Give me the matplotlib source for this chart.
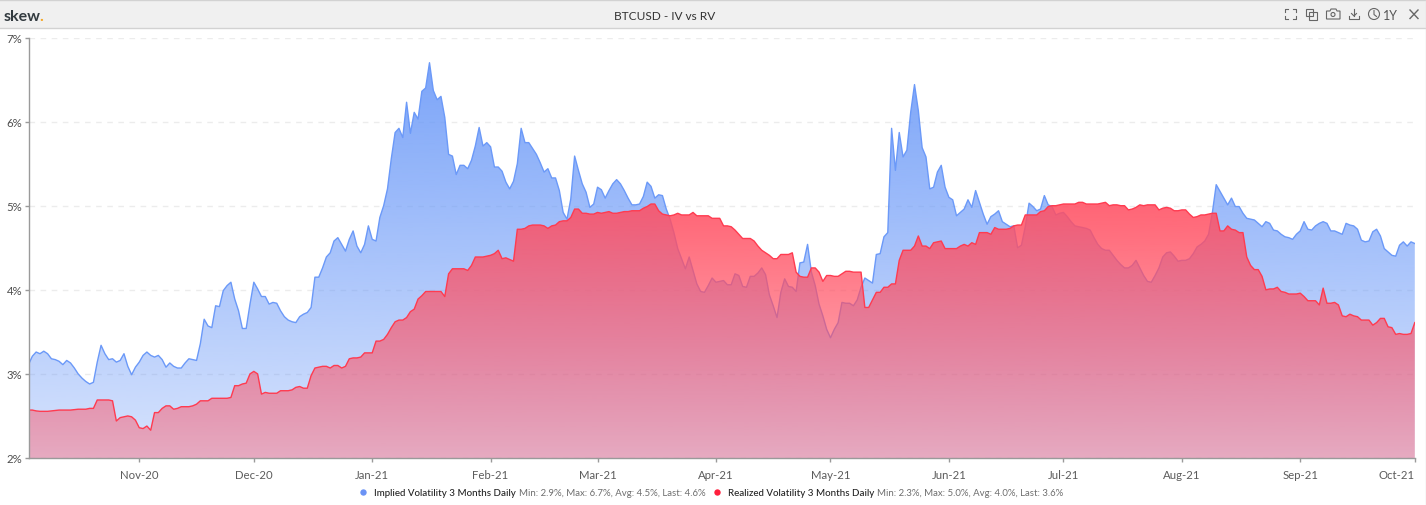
import numpy as np
import pandas as pd
import matplotlib
matplotlib.use("Agg")
import matplotlib.pyplot as plt
import matplotlib.dates as mdates
from matplotlib.colors import to_rgb
from matplotlib.patches import Rectangle, Circle, PathPatch, Polygon
from matplotlib.path import Path

plt.rcParams['font.family'] = ['Lato', 'DejaVu Sans']

START_DATE = "2020-10-03"

iv_values = [
    3.11,3.21,3.26,3.24,3.27,3.24,3.18,3.17,3.15,3.11,
    3.16,3.13,3.07,3.00,2.95,2.91,2.88,2.90,3.14,3.34,
    3.24,3.17,3.18,3.14,3.16,3.24,3.09,2.99,3.08,3.14,
    3.22,3.26,3.22,3.20,3.22,3.17,3.08,3.13,3.09,3.07,
    3.07,3.13,3.18,3.17,3.16,3.36,3.65,3.57,3.55,3.81,
    3.80,3.99,4.05,4.09,3.89,3.75,3.54,3.54,3.83,4.09,
    4.01,3.92,3.92,3.83,3.85,3.84,3.75,3.68,3.64,3.62,
    3.61,3.68,3.71,3.73,3.79,4.15,4.15,4.26,4.39,4.44,
    4.58,4.62,4.54,4.46,4.60,4.70,4.52,4.44,4.54,4.76,
    4.60,4.58,4.86,5.00,5.20,5.56,5.87,5.92,5.81,6.23,
    5.86,6.11,6.03,6.36,6.40,6.70,6.37,6.26,6.30,6.05,
    5.61,5.59,5.37,5.48,5.48,5.44,5.54,5.71,5.93,5.71,
    5.75,5.70,5.46,5.46,5.41,5.28,5.20,5.29,5.50,5.92,
    5.75,5.75,5.68,5.61,5.51,5.40,5.44,5.33,5.33,5.18,
    4.92,4.84,5.08,5.59,5.42,5.26,5.16,4.98,5.02,5.22,
    5.19,5.09,5.18,5.26,5.31,5.26,5.18,5.09,5.01,5.01,
    5.02,5.11,5.28,5.23,5.09,5.13,5.12,4.96,4.84,4.68,
    4.49,4.37,4.25,4.39,4.23,4.07,3.98,3.97,4.05,4.14,
    4.09,4.10,4.11,4.06,4.06,4.19,4.17,4.04,4.03,4.16,
    4.16,4.20,4.26,4.18,3.94,3.81,3.67,3.97,4.13,4.04,
    4.03,3.98,4.32,4.33,4.54,4.21,4.05,3.83,3.69,3.53,
    3.43,3.53,3.61,3.85,3.84,3.84,3.81,3.88,4.03,4.14,
    4.11,4.08,4.42,4.43,4.63,4.68,5.92,5.42,5.87,5.58,
    5.66,6.11,6.44,6.13,5.69,5.58,5.20,5.22,5.40,5.48,
    5.22,5.10,5.07,4.88,4.92,4.96,5.07,4.98,5.18,5.04,
    4.90,4.78,4.87,4.90,4.94,4.81,4.78,4.75,4.76,4.50,
    4.53,4.75,5.03,4.99,4.94,4.96,5.12,5.01,4.99,4.89,
    4.91,4.92,4.87,4.81,4.76,4.75,4.74,4.73,4.71,4.62,
    4.54,4.49,4.47,4.47,4.41,4.35,4.30,4.26,4.26,4.29,
    4.35,4.26,4.17,4.10,4.09,4.17,4.26,4.39,4.44,4.45,
    4.40,4.34,4.35,4.35,4.37,4.43,4.51,4.54,4.58,4.66,
    4.92,5.25,5.17,5.09,5.01,5.09,4.99,4.99,4.91,4.85,
    4.84,4.83,4.79,4.75,4.81,4.79,4.71,4.70,4.66,4.63,
    4.62,4.60,4.66,4.70,4.81,4.72,4.71,4.76,4.79,4.81,
    4.79,4.70,4.70,4.68,4.66,4.79,4.77,4.76,4.72,4.59,
    4.57,4.58,4.69,4.72,4.64,4.49,4.45,4.41,4.40,4.53,
    4.57,4.52,4.57,4.55,
]

rv_values = [
    2.57,2.57,2.56,2.555,2.555,2.555,2.56,2.565,2.57,2.57,
    2.57,2.57,2.575,2.58,2.58,2.58,2.59,2.59,2.69,2.69,
    2.69,2.69,2.68,2.44,2.48,2.49,2.50,2.49,2.45,2.36,
    2.35,2.38,2.33,2.54,2.54,2.59,2.62,2.62,2.58,2.59,
    2.61,2.61,2.61,2.62,2.64,2.68,2.68,2.68,2.71,2.71,
    2.71,2.71,2.71,2.72,2.86,2.86,2.88,2.89,3.00,3.03,
    3.00,2.76,2.78,2.77,2.77,2.77,2.80,2.80,2.80,2.81,
    2.84,2.85,2.83,2.83,2.98,3.07,3.08,3.09,3.09,3.07,
    3.10,3.10,3.07,3.09,3.18,3.19,3.19,3.20,3.25,3.25,
    3.25,3.39,3.39,3.41,3.47,3.55,3.62,3.64,3.64,3.67,
    3.74,3.77,3.89,3.93,3.98,3.98,3.98,3.98,3.98,3.92,
    4.19,4.25,4.25,4.25,4.25,4.23,4.29,4.39,4.39,4.39,
    4.40,4.41,4.43,4.47,4.37,4.38,4.36,4.34,4.72,4.72,
    4.73,4.76,4.77,4.77,4.77,4.76,4.73,4.76,4.77,4.81,
    4.82,4.82,4.86,4.96,4.96,4.91,4.91,4.90,4.90,4.92,
    4.91,4.92,4.93,4.91,4.91,4.92,4.93,4.93,4.94,4.94,
    4.94,4.97,4.99,5.02,5.02,4.94,4.90,4.89,4.88,4.89,
    4.91,4.89,4.89,4.89,4.92,4.88,4.88,4.88,4.88,4.85,
    4.85,4.85,4.76,4.76,4.75,4.71,4.66,4.61,4.61,4.61,
    4.58,4.52,4.47,4.44,4.41,4.37,4.37,4.42,4.42,4.42,
    4.44,4.21,4.16,4.15,4.15,4.26,4.26,4.21,4.10,4.17,
    4.17,4.16,4.16,4.19,4.22,4.22,4.21,4.21,4.21,3.79,
    3.79,3.88,3.97,3.97,4.03,4.03,4.07,4.07,4.35,4.47,
    4.47,4.47,4.52,4.64,4.52,4.52,4.49,4.56,4.57,4.58,
    4.49,4.49,4.49,4.49,4.52,4.54,4.52,4.56,4.54,4.68,
    4.68,4.68,4.66,4.74,4.72,4.72,4.72,4.73,4.76,4.77,
    4.77,4.89,4.89,4.89,4.89,4.93,4.94,4.99,5.00,5.00,
    5.01,5.02,5.02,5.02,5.02,5.04,5.04,5.02,5.02,5.02,
    5.02,5.03,5.04,5.00,5.01,5.01,5.00,5.00,4.95,4.96,
    4.98,5.01,5.00,5.01,5.01,5.01,4.95,4.97,4.98,4.97,
    4.94,4.94,4.95,4.95,4.90,4.86,4.87,4.89,4.89,4.90,
    4.91,4.91,4.70,4.70,4.76,4.72,4.71,4.68,4.68,4.39,
    4.29,4.24,4.24,4.16,4.00,4.01,4.01,4.03,3.98,3.97,
    3.95,3.95,3.95,3.96,3.92,3.87,3.87,3.87,3.82,4.02,
    3.84,3.84,3.85,3.82,3.69,3.68,3.71,3.69,3.68,3.64,
    3.64,3.64,3.58,3.61,3.66,3.66,3.56,3.55,3.47,3.48,
    3.47,3.47,3.48,3.61,
]

y_ticks = [2, 3, 4, 5, 6, 7]
x_tick_dates = ["2020-11-01", "2020-12-01", "2021-01-01", "2021-02-01", "2021-03-01",
                "2021-04-01", "2021-05-01", "2021-06-01", "2021-07-01", "2021-08-01",
                "2021-09-01", "2021-10-01"]
x_tick_labels = ["Nov-20", "Dec-20", "Jan-21", "Feb-21", "Mar-21", "Apr-21",
                 "May-21", "Jun-21", "Jul-21", "Aug-21", "Sep-21", "Oct-21"]

TITLE = "BTCUSD - IV vs RV"
IV_NAME = "Implied Volatility 3 Months Daily"
IV_STATS = "Min: 2.9%, Max: 6.7%, Avg: 4.5%, Last: 4.6%"
RV_NAME = "Realized Volatility 3 Months Daily"
RV_STATS = "Min: 2.3%, Max: 5.0%, Avg: 4.0%, Last: 3.6%"

W, H = 1426, 506
BLUE = "#6b99f8"
RED_FILL = "#ff4f62"
LINE_RED = "#ff3b50"
AXIS = "#9a9a9a"

dates = pd.date_range(START_DATE, periods=len(iv_values), freq="D")
xn = mdates.date2num(dates)

fig = plt.figure(figsize=(W / 100, H / 100), dpi=100, facecolor="white")

# plot area
L, R, T, B = 28.5, 1414.8, 38.5, 459.0
ax = fig.add_axes([L / W, 1 - B / H, (R - L) / W, (B - T) / H])
ax.set_xlim(xn[0], xn[-1])
ax.set_ylim(2, 7)
ax.set_facecolor("none")


def gradient_area(x, y, color, a_bottom, a_top, z):
    rgb = to_rgb(color)
    n = 512
    img = np.zeros((n, 1, 4))
    img[..., 0], img[..., 1], img[..., 2] = rgb
    img[:, 0, 3] = np.clip(np.linspace(a_top, a_bottom, n), 0, 1)
    im = ax.imshow(img, extent=[x[0], x[-1], 2, 7], aspect="auto", origin="upper",
                   zorder=z, interpolation="bilinear")
    verts = [(x[0], 2)] + list(zip(x, y)) + [(x[-1], 2), (x[0], 2)]
    codes = [Path.MOVETO] + [Path.LINETO] * (len(verts) - 2) + [Path.CLOSEPOLY]
    patch = PathPatch(Path(verts, codes), transform=ax.transData, fc="none", ec="none")
    ax.add_patch(patch)
    im.set_clip_path(patch)


ax.set_yticks(y_ticks)
ax.yaxis.grid(True, color="#ececec", lw=1, ls=(0, (4, 4)), zorder=1)
ax.set_axisbelow(True)

gradient_area(xn, iv_values, BLUE, 0.27, 0.93, 2)
ax.plot(xn, iv_values, color=BLUE, lw=1.0, zorder=3, solid_joinstyle="round")
gradient_area(xn, rv_values, RED_FILL, 0.39, 1.2, 4)
ax.plot(xn, rv_values, color=LINE_RED, lw=1.0, zorder=5, solid_joinstyle="round")
ax.set_xlim(xn[0], xn[-1])
ax.set_ylim(2, 7)

for s in ("top", "right"):
    ax.spines[s].set_visible(False)
for s in ("left", "bottom"):
    ax.spines[s].set_color(AXIS)
    ax.spines[s].set_linewidth(1)
    ax.spines[s].set_zorder(6)

ax.set_yticklabels([f"{v}%" for v in y_ticks])
ax.tick_params(axis="y", length=3, width=1, color=AXIS, labelcolor="#4d4d4d",
               labelsize=8.2, pad=1.5)
ax.set_xticks(mdates.date2num(pd.to_datetime(x_tick_dates)))
ax.set_xticklabels(x_tick_labels)
ax.tick_params(axis="x", length=3, width=1, color=AXIS, labelcolor="#5c5c5c",
               labelsize=8.2, pad=5)
ax.get_xticklabels()[-1].set_ha("right")

# overlay in pixel coordinates for the chrome of the widget
ov = fig.add_axes([0, 0, 1, 1], zorder=10)
ov.set_xlim(0, W)
ov.set_ylim(H, 0)
ov.axis("off")
ov.patch.set_alpha(0)

ov.add_patch(Rectangle((0, 0.5), W, 28, fc="#f0f0f0", ec="none"))
ov.plot([0, W], [0.5, 0.5], color="#d2d2d2", lw=1)
ov.plot([0, W], [28.5, 28.5], color="#d2d2d2", lw=1)
ov.plot([W - 0.5, W - 0.5], [0, H], color="#e0e0e0", lw=1)

ov.text(4, 15, "skew", fontsize=11.5, fontweight="bold", color="#333b40",
        ha="left", va="center_baseline")
ov.text(39, 15, ".", fontsize=11.5, fontweight="bold", color="#f5a623",
        ha="left", va="center_baseline")
ov.text(665, 15, TITLE, fontsize=8.6, color="#333333", ha="center", va="center_baseline")
ov.text(1390.5, 14.5, "1Y", fontsize=9, color="#555555", ha="center", va="center_baseline")

ic = "#666666"
lw = 0.8
# fullscreen corners
for (cx, cy, dx, dy) in [(1284.5, 10, 1, 1), (1295.5, 10, -1, 1), (1284.5, 20, 1, -1), (1295.5, 20, -1, -1)]:
    ov.plot([cx + 3 * dx, cx, cx], [cy, cy, cy + 3 * dy], color=ic, lw=lw)
# copy icon
ov.add_patch(Rectangle((1305.5, 9.5), 7.5, 7.5, fc="none", ec=ic, lw=lw))
ov.add_patch(Rectangle((1309, 13), 7.5, 7.5, fc="none", ec=ic, lw=lw))
# camera
ov.add_patch(Polygon([(1326.5, 12), (1330, 12), (1331, 10), (1336, 10), (1337, 12), (1340, 12),
                      (1340, 20), (1326.5, 20)], closed=True, fc="none", ec=ic, lw=lw))
ov.add_patch(Circle((1333, 15.5), 2, fc="none", ec=ic, lw=lw))
# download
ov.plot([1354, 1354], [10, 16.5], color=ic, lw=lw)
ov.plot([1351.5, 1354, 1356.5], [14.5, 17, 14.5], color=ic, lw=lw)
ov.plot([1349, 1349, 1359, 1359], [16.5, 19.5, 19.5, 16.5], color=ic, lw=lw)
# clock
ov.add_patch(Circle((1374, 15), 5.5, fc="none", ec=ic, lw=lw))
ov.plot([1374, 1374, 1376.5], [11.5, 15.5, 17.5], color=ic, lw=lw)
# close
ov.plot([1410, 1418], [11, 19.5], color=ic, lw=1.0)
ov.plot([1418, 1410], [11, 19.5], color=ic, lw=1.0)

# legend
LEG_Y = 493
ov.plot([363], [LEG_Y], "o", ms=4.6, color="#6b93f5", mec="none")
ov.text(374, LEG_Y, IV_NAME, fontsize=7.05, color="#222222", fontweight="medium",
        ha="left", va="center_baseline")
ov.text(519, LEG_Y, IV_STATS, fontsize=6.95, color="#6e6e6e", ha="left", va="center_baseline")
ov.plot([717], [LEG_Y], "o", ms=4.6, color="#ff1f3d", mec="none")
ov.text(728, LEG_Y, RV_NAME, fontsize=7.05, color="#222222", fontweight="medium",
        ha="left", va="center_baseline")
ov.text(877, LEG_Y, RV_STATS, fontsize=6.95, color="#6e6e6e", ha="left", va="center_baseline")

fig.savefig("out.png", dpi=100, facecolor="white")
